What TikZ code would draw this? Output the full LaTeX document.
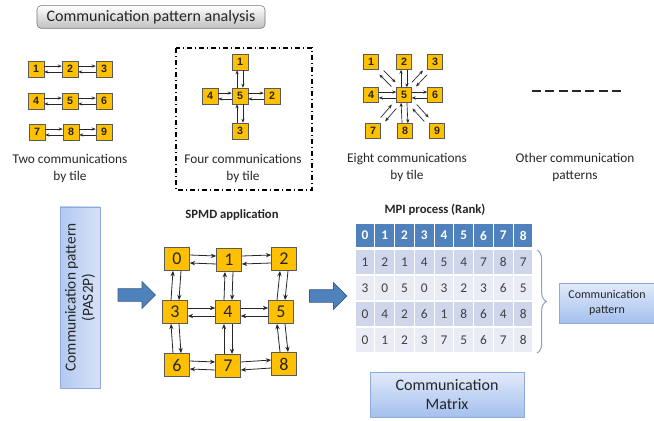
\documentclass[tikz,border=0pt]{standalone}
\usepackage{fontspec}
\setmainfont{Carlito}
\newfontfamily\arialf{Liberation Sans}
\usetikzlibrary{arrows.meta,calc,shapes.arrows,decorations.pathreplacing}
\definecolor{tileY}{HTML}{FFC000}
\definecolor{tileB}{HTML}{5A5A5A}
\definecolor{hdr}{HTML}{4F81BD}
\definecolor{rowA}{HTML}{CFD5EA}
\definecolor{rowB}{HTML}{E9EBF5}
\definecolor{bArrow}{HTML}{4F81BD}
\definecolor{bArrowD}{HTML}{385D8A}
\definecolor{lblueT}{HTML}{E2EAFA}
\definecolor{lblueB}{HTML}{A4C0EE}
\definecolor{lblueD}{HTML}{8EAADB}
\definecolor{braceC}{HTML}{8FA3C4}
\newcommand\hpair[3]{%
 \draw[arr] ([yshift=#1]#2.east) -- ([yshift=#1]#3.west);
 \draw[arr] ([yshift=-#1]#3.west) -- ([yshift=-#1]#2.east);}
\newcommand\vpair[3]{%
 \draw[arr] ([xshift=-#1]#3.north) -- ([xshift=-#1]#2.south);
 \draw[arr] ([xshift=#1]#2.south) -- ([xshift=#1]#3.north);}
\newcommand\dpair[2]{%
 \draw[arr] ($(#1)!0.32!(#2)!2.2pt!90:(#2)$) -- ($(#1)!0.68!(#2)!2.2pt!-90:(#1)$);
 \draw[arr] ($(#2)!0.32!(#1)!2.2pt!90:(#1)$) -- ($(#2)!0.68!(#1)!2.2pt!-90:(#2)$);}
\begin{document}
\begin{tikzpicture}[x=0.75pt,y=-0.75pt,
  arr/.style={-{Stealth[length=3pt,width=2.4pt]},line width=0.5pt,draw=black!85},
  stile/.style={draw=tileB,fill=tileY,minimum size=12pt,inner sep=0pt,font=\arialf\bfseries\fontsize{8}{8}\selectfont,text=black!85},
  etile/.style={stile,minimum size=11.25pt},
  btile/.style={draw=tileB,fill=tileY,minimum width=18.75pt,minimum height=17.5pt,inner sep=0pt,font=\fontsize{13.5}{13.5}\selectfont,text=black!85},
  lbl/.style={align=center,font=\fontsize{10}{12.75}\selectfont,text=black!85},
  hcell/.style={draw=white,line width=0.8pt,fill=hdr,minimum width=14.83pt,minimum height=18.75pt,inner sep=0pt,text=white,font=\bfseries\fontsize{10}{10}\selectfont},
  cell/.style={draw=white,line width=0.8pt,minimum width=14.83pt,minimum height=19.5pt,inner sep=0pt,text=black!75,font=\fontsize{10}{10}\selectfont},
  bluebox/.style={draw=lblueD,line width=0.5pt,top color=lblueT,bottom color=lblueB,inner sep=1pt,align=center,text=black!85},
  blockarrow/.style={single arrow,draw=bArrowD,fill=bArrow,line width=0.5pt,minimum height=28pt,minimum width=19.5pt,single arrow head extend=5.25pt,inner xsep=0pt,inner ysep=4.5pt}
]
\useasboundingbox (0,0) rectangle (654,421);

% title
\node[draw=black!55,rounded corners=3pt,top color=white,bottom color=black!25,minimum width=171pt,minimum height=17pt,font=\fontsize{12}{12}\selectfont,text=black!85] (title) at (151,17) {Communication pattern analysis};

% two communications
\foreach \n/\x/\y in {1/36/69,2/70/69,3/104/69,4/36/101,5/70/101,6/104/101,7/37/132,8/71/132,9/104/132}
  \node[stile] (t\n) at (\x,\y) {\n};
\hpair{2.2pt}{t1}{t2} \hpair{2.2pt}{t2}{t3}
\hpair{2.2pt}{t4}{t5} \hpair{2.2pt}{t5}{t6}
\hpair{2.2pt}{t7}{t8} \hpair{2.2pt}{t8}{t9}
\node[lbl] (l2) at (70,168) {Two communications\\by tile};

% four communications
\draw[line width=1pt,dash pattern=on 4pt off 2pt on 1pt off 2pt] (176,48) rectangle (312,190);
\node[stile] (f1) at (240,62) {1};
\node[stile] (f4) at (210,96) {4};
\node[stile] (f5) at (240,96) {5};
\node[stile] (f2) at (272,96) {2};
\node[stile] (f3) at (240,131) {3};
\vpair{2.2pt}{f1}{f5} \vpair{2.2pt}{f5}{f3}
\hpair{2.2pt}{f4}{f5} \hpair{2.2pt}{f5}{f2}
\node[lbl] (l4) at (243,168) {Four communications\\by tile};

% eight communications
\foreach \n/\x/\y in {1/371/62,2/404/62,3/435/62,4/371/95,5/404/95,6/435/95,7/373/131,8/405/131,9/437/131}
  \node[etile] (e\n) at (\x,\y) {\n};
\hpair{2.2pt}{e4}{e5} \hpair{2.2pt}{e5}{e6}
\vpair{2.2pt}{e2}{e5} \vpair{2.2pt}{e5}{e8}
\dpair{e1}{e5} \dpair{e3}{e5} \dpair{e7}{e5} \dpair{e9}{e5}
\node[lbl] (l8) at (407,167) {Eight communications\\by tile};

% other patterns
\coordinate (ds) at (532,91);
\coordinate (de) at (623,91);
\draw[line width=2pt,dash pattern=on 6.75pt off 3.25pt,black!85] (ds) -- (de);
\node[lbl] (lo) at (575,167) {Other communication\\patterns};

% left box
\node[draw=lblueD,line width=0.5pt,left color=lblueB!85,right color=lblueT!80!lblueB,rotate=90,minimum width=136pt,minimum height=30pt,align=center,font=\fontsize{11.5}{13}\selectfont,text=black!85] (pas) at (80,297.5) {Communication pattern\\(PAS2P)};

\node[blockarrow] (ba1) at (133.5,295) {};
\node[blockarrow] (ba2) at (325,296) {};

% SPMD
\node[font=\bfseries\fontsize{9.5}{9.5}\selectfont,text=black!85] (spmd) at (232,215) {SPMD application};
\foreach \n/\x/\y in {0/177/259,1/229/260,2/284/259,3/175/312,4/228/312,5/281/312,6/177/365,7/228/366,8/284/364}
  \node[btile] (g\n) at (\x,\y) {\n};
\begin{scope}[arr/.style={-{Stealth[length=4pt,width=3.2pt]},line width=0.6pt,draw=black!85}]
\hpair{3pt}{g0}{g1} \hpair{3pt}{g1}{g2}
\hpair{3pt}{g3}{g4} \hpair{3pt}{g4}{g5}
\hpair{3pt}{g6}{g7} \hpair{3pt}{g7}{g8}
\vpair{3pt}{g0}{g3} \vpair{3pt}{g3}{g6}
\vpair{3pt}{g1}{g4} \vpair{3pt}{g4}{g7}
\vpair{3pt}{g2}{g5} \vpair{3pt}{g5}{g8}
\end{scope}

% table
\node[font=\bfseries\fontsize{9.5}{9.5}\selectfont,text=black!85] (mpi) at (435,210) {MPI process (Rank)};
\foreach \i in {0,...,8}
  \node[hcell] (h\i) at ({355+19.78*(\i+0.5)},235.5) {\i};
\foreach \row [count=\r] in {{1,2,1,4,5,4,7,8,7},{3,0,5,0,3,2,3,6,5},{0,4,2,6,1,8,6,4,8},{0,1,2,3,7,5,6,7,8}} {
  \ifodd\r \def\rc{rowA}\else\def\rc{rowB}\fi
  \foreach \v [count=\c from 0] in \row {
    \node[cell,fill=\rc] (m\r-\c) at ({355+19.78*(\c+0.5)},{249+26*(\r-0.5)}) {\v};
  }
}
\coordinate (bt) at (537,250);
\coordinate (bb) at (537,353);
\draw[braceC,line width=0.8pt,decorate,decoration={brace,amplitude=7pt}] (bt) -- (bb);

\node[bluebox,minimum width=72pt,minimum height=30pt,font=\fontsize{9}{11}\selectfont] (cp) at (607,303) {Communication\\pattern};
\node[bluebox,minimum width=115.5pt,minimum height=33.75pt,font=\fontsize{12}{14}\selectfont] (cm) at (447,394.5) {Communication\\Matrix};
\end{tikzpicture}
\end{document}
